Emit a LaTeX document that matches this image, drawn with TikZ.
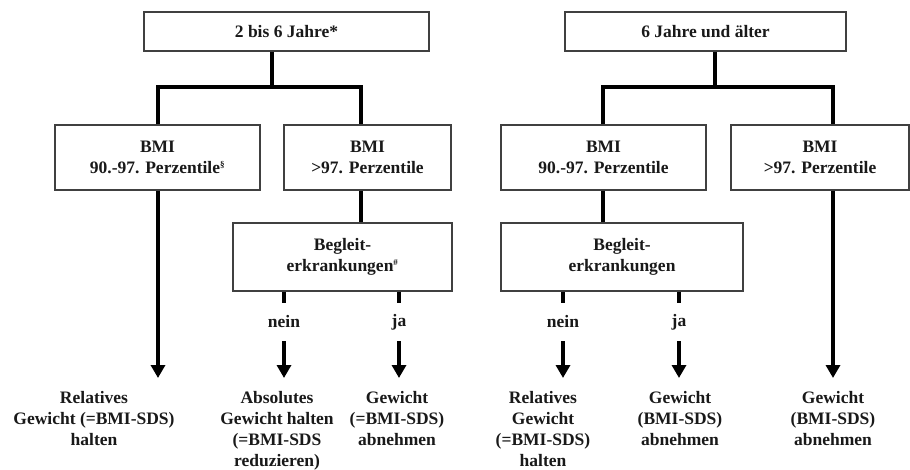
\documentclass[tikz,border=0pt]{standalone}
\usepackage{fontspec}
\setmainfont{Liberation Serif}
\usetikzlibrary{arrows.meta}
\begin{document}
\begin{tikzpicture}[x=1pt,y=-1pt,
  every node/.style={font=\bfseries\fontsize{17.5}{21}\selectfont, text=black!90},
  box/.style={draw=black!75, line width=1.2pt, inner sep=0pt, align=center},
  conn/.style={line width=4pt, line join=miter},
  arr/.style={conn, -{Triangle[width=14pt,length=13pt]}},
  lbl/.style={minimum height=38pt, inner sep=0pt},
  res/.style={anchor=north, align=center, inner xsep=0pt, inner ysep=13pt}]
\useasboundingbox (0,0) rectangle (910,469);
% ---------- tree 1 ----------
\node[box, minimum width=285pt, minimum height=39pt] (top1) at (286.5,31.5) {2 bis 6 Jahre*};
\node[box, minimum width=205pt, minimum height=65pt] (bmi1) at (157.5,157.5) {BMI\\90.-97. Perzentile\textsuperscript{\fontsize{9}{9}\selectfont\S}};
\node[box, minimum width=167pt, minimum height=65pt] (bmi2) at (367.5,157.5) {BMI\\>97. Perzentile};
\node[box, minimum width=219pt, minimum height=68pt] (beg1) at (342.5,257) {Begleit-\\erkrankungen\textsuperscript{\fontsize{9}{9}\selectfont\#}};
\coordinate (j1) at (272,87);
\coordinate (h1l) at (158,87);
\coordinate (h1r) at (361,87);
\node[lbl] (nein1) at (284,322) {nein};
\node[lbl] (ja1) at (399,322) {ja};
\node[res] (res1) at (94,378) {Relatives\\Gewicht (=BMI-SDS)\\halten};
\node[res] (res2) at (277,378) {Absolutes\\Gewicht halten\\(=BMI-SDS\\reduzieren)};
\node[res] (res3) at (397,378) {Gewicht\\(=BMI-SDS)\\abnehmen};
\draw[conn] (top1.south -| j1) -- (j1);
\draw[conn] (bmi1.north -| h1l) -- (h1l) -- (h1r) -- (bmi2.north -| h1r);
\draw[conn] (bmi2.south -| h1r) -- (beg1.north -| h1r);
\draw[arr] (bmi1.south -| h1l) -- (res1.north -| h1l);
\draw[conn] (beg1.south -| nein1) -- (nein1.north);
\draw[conn] (beg1.south -| ja1) -- (ja1.north);
\draw[arr] (nein1.south) -- (res2.north -| nein1);
\draw[arr] (ja1.south) -- (res3.north -| ja1);
% ---------- tree 2 ----------
\node[box, minimum width=281pt, minimum height=39pt] (top2) at (705.5,31.5) {6 Jahre und älter};
\node[box, minimum width=205pt, minimum height=65pt] (bmi3) at (603.5,157.5) {BMI\\90.-97. Perzentile};
\node[box, minimum width=178pt, minimum height=65pt] (bmi4) at (820,157.5) {BMI\\>97. Perzentile};
\node[box, minimum width=242pt, minimum height=68pt] (beg2) at (622,257) {Begleit-\\erkrankungen};
\coordinate (j2) at (715,87);
\coordinate (h2l) at (603,87);
\coordinate (h2r) at (833,87);
\node[lbl] (nein2) at (563,322) {nein};
\node[lbl] (ja2) at (679,322) {ja};
\node[res] (res4) at (543,378) {Relatives\\Gewicht\\(=BMI-SDS)\\halten};
\node[res] (res5) at (680,378) {Gewicht\\(BMI-SDS)\\abnehmen};
\node[res] (res6) at (833,378) {Gewicht\\(BMI-SDS)\\abnehmen};
\draw[conn] (top2.south -| j2) -- (j2);
\draw[conn] (bmi3.north -| h2l) -- (h2l) -- (h2r) -- (bmi4.north -| h2r);
\draw[conn] (bmi3.south -| h2l) -- (beg2.north -| h2l);
\draw[arr] (bmi4.south -| h2r) -- (res6.north -| h2r);
\draw[conn] (beg2.south -| nein2) -- (nein2.north);
\draw[conn] (beg2.south -| ja2) -- (ja2.north);
\draw[arr] (nein2.south) -- (res4.north -| nein2);
\draw[arr] (ja2.south) -- (res5.north -| ja2);
\end{tikzpicture}
\end{document}
